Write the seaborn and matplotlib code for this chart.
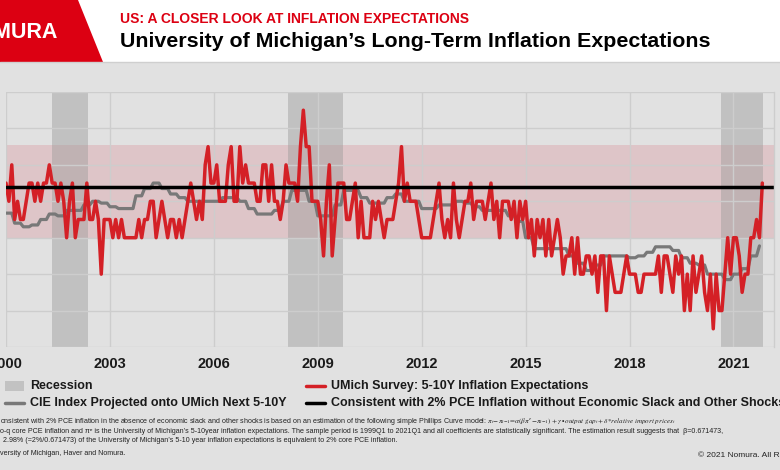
import numpy as np
import pandas as pd
import matplotlib
matplotlib.use("Agg")
import matplotlib.pyplot as plt
from matplotlib.lines import Line2D
from matplotlib.patches import Rectangle, Polygon
import seaborn as sns

# ── data ─────────────────────────────────────────────────────────────────────
# UMich 5-10Y inflation expectations, monthly from Jan 2000 to Nov 2021
umich = [
    3.0, 2.9, 3.1, 2.8, 2.9, 2.8, 2.8, 2.9, 3.0, 3.0, 2.9, 3.0,  # 2000
    2.9, 3.0, 3.0, 3.1, 3.0, 3.0, 2.9, 3.0, 2.9, 2.7, 2.9, 3.0,  # 2001
    2.7, 2.8, 2.8, 2.8, 3.0, 2.8, 2.8, 2.9, 2.8, 2.5, 2.8, 2.8,  # 2002
    2.8, 2.7, 2.8, 2.7, 2.8, 2.7, 2.7, 2.7, 2.7, 2.7, 2.8, 2.7,  # 2003
    2.8, 2.8, 2.9, 2.9, 2.7, 2.8, 2.9, 2.8, 2.7, 2.8, 2.8, 2.7,  # 2004
    2.8, 2.7, 2.8, 2.9, 3.0, 2.9, 2.8, 2.9, 2.8, 3.1, 3.2, 3.0,  # 2005
    3.0, 3.1, 2.9, 2.9, 2.9, 3.1, 3.2, 2.9, 2.9, 3.2, 3.0, 3.1,  # 2006
    3.0, 3.0, 3.0, 2.9, 2.9, 3.1, 3.1, 2.9, 3.1, 2.9, 2.9, 2.8,  # 2007
    2.9, 3.1, 3.0, 3.0, 3.0, 2.9, 3.2, 3.4, 3.2, 3.2, 2.9, 2.9,  # 2008
    2.9, 2.8, 2.6, 2.9, 3.1, 2.6, 2.8, 3.0, 3.0, 3.0, 2.8, 2.8,  # 2009
    2.9, 3.0, 2.7, 2.9, 2.7, 2.7, 2.7, 2.9, 2.8, 2.9, 2.8, 2.7,  # 2010
    2.8, 2.8, 2.8, 2.9, 3.0, 3.2, 2.9, 3.0, 2.9, 2.9, 2.9, 2.8,  # 2011
    2.7, 2.7, 2.7, 2.7, 2.8, 2.9, 3.0, 2.8, 2.7, 2.8, 2.7, 3.0,  # 2012
    2.8, 2.7, 2.8, 2.9, 2.9, 3.0, 2.8, 2.9, 2.9, 2.9, 2.8, 2.9,  # 2013
    3.0, 2.8, 2.9, 2.7, 2.9, 2.9, 2.9, 2.8, 2.9, 2.7, 2.9, 2.8,  # 2014
    2.9, 2.7, 2.8, 2.6, 2.8, 2.7, 2.8, 2.6, 2.8, 2.6, 2.7, 2.8,  # 2015
    2.7, 2.5, 2.6, 2.6, 2.7, 2.5, 2.7, 2.5, 2.5, 2.6, 2.6, 2.5,  # 2016
    2.6, 2.4, 2.6, 2.6, 2.3, 2.6, 2.5, 2.4, 2.4, 2.4, 2.5, 2.6,  # 2017
    2.5, 2.5, 2.5, 2.4, 2.4, 2.5, 2.5, 2.5, 2.5, 2.5, 2.6, 2.4,  # 2018
    2.6, 2.6, 2.5, 2.4, 2.6, 2.5, 2.6, 2.3, 2.5, 2.3, 2.6, 2.4,  # 2019
    2.5, 2.6, 2.4, 2.3, 2.5, 2.2, 2.5, 2.3, 2.3, 2.5, 2.7, 2.5,  # 2020
    2.7, 2.7, 2.6, 2.4, 2.5, 2.5, 2.7, 2.7, 2.8, 2.7, 3.0,       # 2021
]

# CIE index projected onto UMich, quarterly 2000Q1 - 2021Q4
cie_q = [
    2.835, 2.78, 2.76, 2.77, 2.80, 2.83, 2.82, 2.85,
    2.85, 2.88, 2.90, 2.89, 2.87, 2.86, 2.86, 2.93,
    2.97, 3.00, 2.97, 2.94, 2.92, 2.90, 2.90, 2.90,
    2.90, 2.92, 2.92, 2.90, 2.86, 2.83, 2.83, 2.85,
    2.90, 2.96, 2.96, 2.90, 2.82, 2.82, 2.88, 2.96,
    2.96, 2.92, 2.89, 2.89, 2.92, 2.94, 2.90, 2.90,
    2.86, 2.86, 2.88, 2.88, 2.90, 2.89, 2.87, 2.85,
    2.85, 2.85, 2.82, 2.79, 2.70, 2.64, 2.64, 2.64,
    2.64, 2.60, 2.56, 2.52, 2.55, 2.60, 2.60, 2.60,
    2.59, 2.60, 2.62, 2.65, 2.65, 2.63, 2.59, 2.56,
    2.55, 2.50, 2.50, 2.47, 2.50, 2.53, 2.60, 2.655,
]
cie_months = 262  # last CIE observation is Oct 2021

recessions = [(2001.32, 2002.38), (2008.15, 2009.72), (2020.63, 2021.84)]
band_lo, band_hi = 2.70, 3.21
consistent_level = 2.98

x_ticks = [2000, 2003, 2006, 2009, 2012, 2015, 2018, 2021]
y_grid = [2.1, 2.3, 2.5, 2.7, 2.9, 3.1, 3.3, 3.5]

years = 2000 + np.arange(len(umich)) / 12
df = pd.DataFrame({"year": years, "umich": umich})
df_cie = pd.DataFrame({"year": years[:cie_months],
                       "cie": np.repeat(cie_q, 3)[:cie_months]})

# ── style ────────────────────────────────────────────────────────────────────
sns.set_theme(style="white")
plt.rcParams["font.family"] = ["Liberation Sans", "DejaVu Sans"]
plt.rcParams["mathtext.fontset"] = "stix"

BG = "#e1e1e1"
RED = "#d42026"
LOGO_RED = "#dc0012"
GREY = "#787878"
W, H = 780, 470


def fx(px):
    return px / W


def fy(py):
    return 1 - py / H


fig = plt.figure(figsize=(7.8, 4.7), dpi=100, facecolor=BG)

# header
fig.patches.append(Rectangle((0, fy(62)), 1, 62 / H, transform=fig.transFigure,
                             facecolor="white", edgecolor="none", zorder=0))
fig.add_artist(Line2D([0, 1], [fy(62), fy(62)], color="#cfcfcf", lw=1))
fig.patches.append(Polygon([(0, 1), (fx(78), 1), (fx(103), fy(62)), (0, fy(62))],
                           closed=True, transform=fig.transFigure,
                           facecolor=LOGO_RED, edgecolor="none", zorder=1))
fig.text(fx(58), fy(38), "NOMURA", ha="right", va="baseline", color="white",
         fontsize=15.5, fontweight="bold")
fig.text(fx(120), fy(23), "US: A CLOSER LOOK AT INFLATION EXPECTATIONS",
         color=LOGO_RED, fontsize=10, fontweight="bold", va="baseline")
fig.text(fx(120), fy(47), "University of Michigan’s Long-Term Inflation Expectations",
         color="black", fontsize=15.4, fontweight="bold", va="baseline")

# ── main chart ───────────────────────────────────────────────────────────────
ax = fig.add_axes([fx(6), fy(347), fx(768), 255 / H])
ax.set_facecolor(BG)

ax.axhspan(band_lo, band_hi, color="#d0021b", alpha=0.12, lw=0)
for start, end in recessions:
    ax.axvspan(start, end, color="#9a9a9a", alpha=0.44, lw=0)

sns.lineplot(data=df_cie, x="year", y="cie", color=GREY, lw=2.3, ax=ax, legend=False)
sns.lineplot(data=df, x="year", y="umich", color=RED, lw=2.5, ax=ax, legend=False)
ax.axhline(consistent_level, color="black", lw=2.5)

ax.set_xlim(2000, 2022.17)
ax.set_ylim(2.1, 3.5)
ax.set_xticks(x_ticks)
ax.set_xticklabels([str(t) for t in x_ticks], fontsize=10.5, fontweight="bold",
                   color="#1a1a1a")
ax.set_yticks(y_grid)
ax.set_yticklabels([])
ax.tick_params(length=0)
ax.tick_params(axis="x", pad=7.5)
ax.set_xlabel("")
ax.set_ylabel("")
ax.set_axisbelow("line")
ax.grid(True, color="#cdcdcd", lw=1)
for name, sp in ax.spines.items():
    sp.set_visible(name == "right")
ax.spines["right"].set_color("#cdcdcd")
ax.spines["right"].set_linewidth(1)

# ── legend ───────────────────────────────────────────────────────────────────
fig.patches.append(Rectangle((fx(5), fy(391)), fx(19), 10 / H, transform=fig.transFigure,
                             facecolor="#c2c2c2", edgecolor="none"))
fig.add_artist(Line2D([fx(5), fx(24)], [fy(403), fy(403)], color=GREY, lw=2.5))
fig.add_artist(Line2D([fx(306), fx(325)], [fy(386), fy(386)], color=RED, lw=2.5))
fig.add_artist(Line2D([fx(306), fx(325)], [fy(403), fy(403)], color="black", lw=2.5))
legend_kw = dict(fontsize=9, fontweight="bold", va="center", color="#1a1a1a")
fig.text(fx(30), fy(386), "Recession", **legend_kw)
fig.text(fx(30), fy(403), "CIE Index Projected onto UMich Next 5-10Y", **legend_kw)
fig.text(fx(331), fy(386), "UMich Survey: 5-10Y Inflation Expectations", **legend_kw)
fig.text(fx(331), fy(403),
         "Consistent with 2% PCE Inflation without Economic Slack and Other Shocks",
         **legend_kw)

# ── footnotes ────────────────────────────────────────────────────────────────
note_kw = dict(fontsize=5.1, va="baseline", color="#222222")
fig.text(fx(0), fy(423),
         "onsistent with 2% PCE inflation in the absence of economic slack and other shocks "
         "is based on an estimation of the following simple Phillips Curve model: "
         r"$\pi_t\!-\!\pi_{t\!-\!1}\!=\!\alpha(\beta\pi^e\!-\!\pi_{t\!-\!1}) + \gamma \bullet "
         r"\mathit{output\ gap_t} + \delta{*}\mathit{relative\ import\ prices_t}$",
         **note_kw)
fig.text(fx(0), fy(433),
         "o-q core PCE inflation and π" + "\u1d49" + " is the University of Michigan’s 5-10year "
         "inflation expectations. The sample period is 1999Q1 to 2021Q1 and all coefficients "
         "are statistically significant. The estimation result suggests that  β=0.671473,",
         **note_kw)
fig.text(fx(3), fy(442),
         "2.98% (=2%/0.671473) of the University of Michigan’s 5-10 year inflation "
         "expectations is equivalent to 2% core PCE inflation.",
         **note_kw)
fig.text(fx(0), fy(455), "versity of Michigan, Haver and Nomura.", **note_kw)
fig.text(fx(698), fy(455), "© 2021 Nomura. All Rights Reserved.", fontsize=6,
         va="center", color="#222222")

fig.savefig("out.png", dpi=100, facecolor=fig.get_facecolor())
